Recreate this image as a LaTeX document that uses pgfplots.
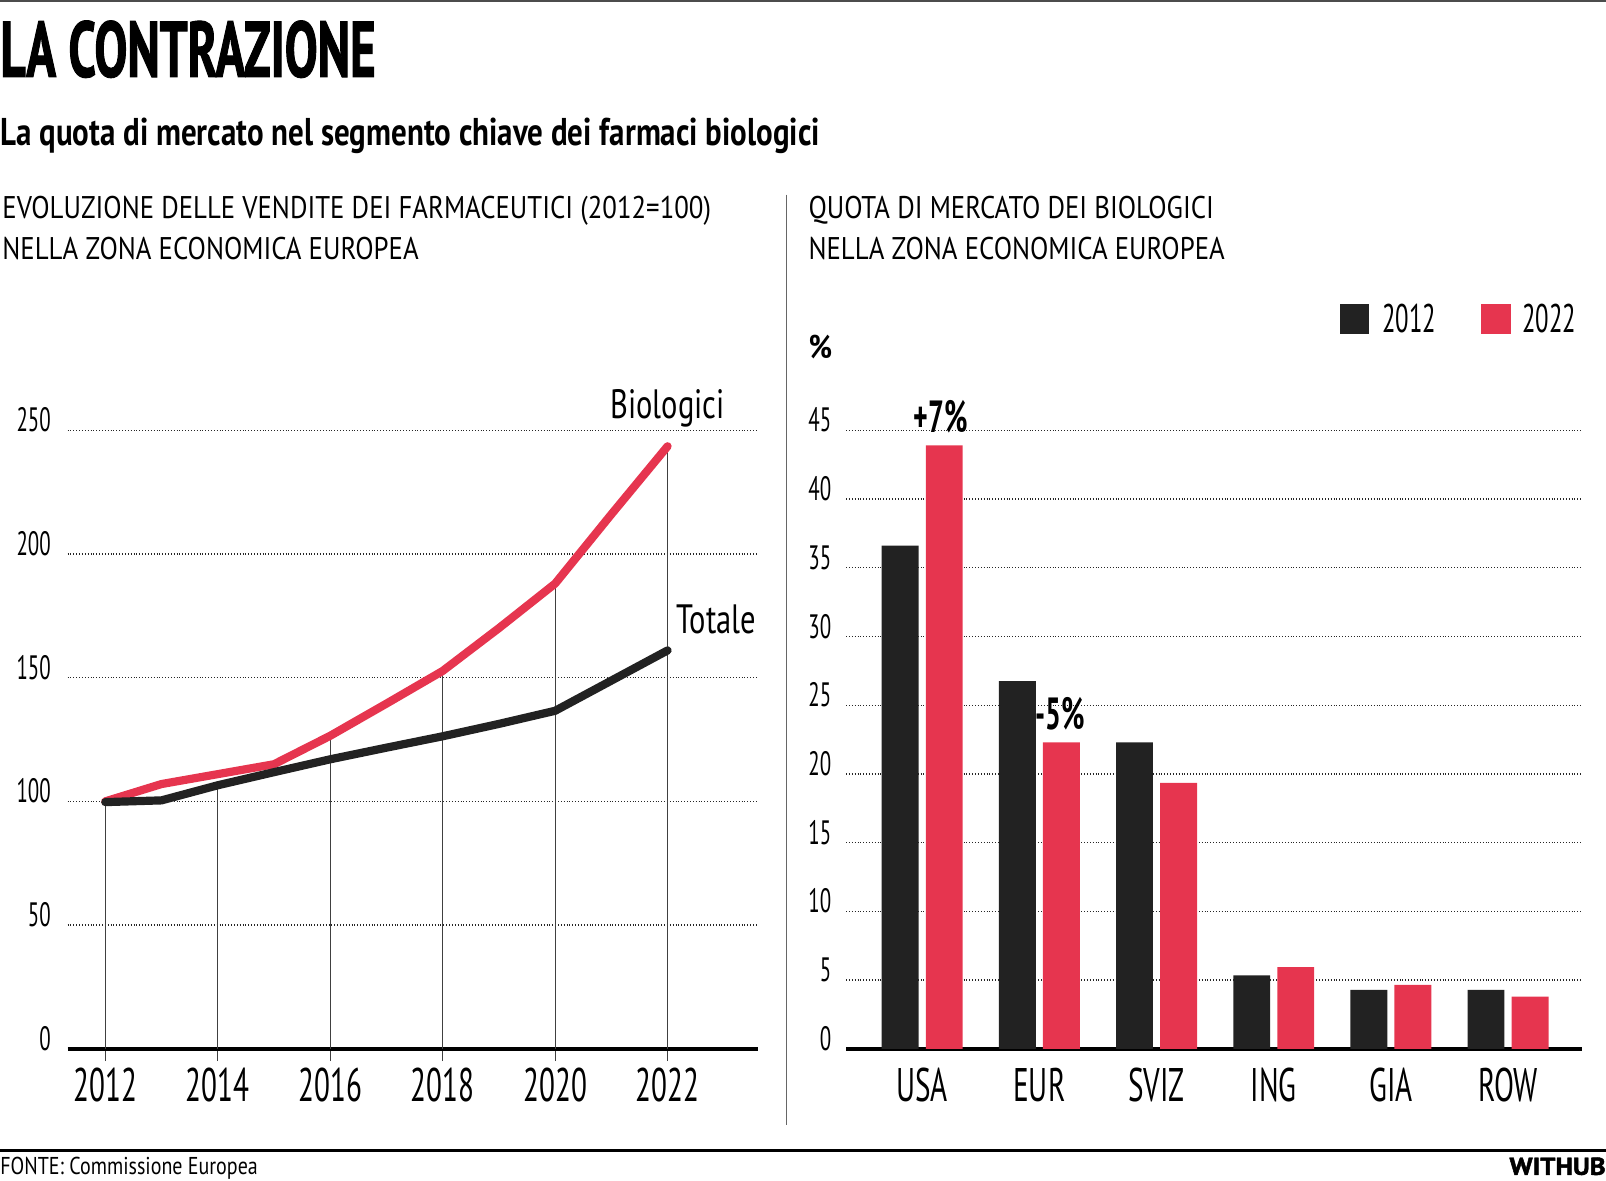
\documentclass[border=0pt]{standalone}
\usepackage{fontspec}
\setmainfont{PT Sans}[FakeStretch=0.855]
\newfontfamily\nf{PT Sans}[FakeStretch=0.62]
\newfontfamily\mf{PT Sans}[FakeStretch=0.745]
\newfontfamily\subf{PT Sans}[FakeStretch=0.80]
\newfontfamily\tf{PT Sans}[FakeStretch=0.624, FakeBold=1.2]
\newfontfamily\ff{PT Sans}[FakeStretch=0.82]
\newfontfamily\wf{PT Sans}[FakeStretch=1.1, FakeBold=2]
\usepackage{pgfplots}
\pgfplotsset{compat=1.18}
\definecolor{myred}{HTML}{E6354F}
\definecolor{myblack}{HTML}{222222}
\begin{document}
\begin{tikzpicture}
\useasboundingbox (0pt,0pt) rectangle (784pt,576.5pt);
% top rule
\draw[black!70, line width=1pt] (0pt,576pt) -- (784pt,576pt);
% title
\node[anchor=base west, inner sep=0pt, font=\tf\bfseries\fontsize{38.5}{38.5}\selectfont] at (0pt,539pt) {LA CONTRAZIONE};
\node[anchor=base west, inner sep=0pt, font=\subf\bfseries\fontsize{18.9}{18.9}\selectfont] at (0pt,505.7pt) {La quota di mercato nel segmento chiave dei farmaci biologici};
% headers
\node[anchor=base west, inner sep=0pt, font=\fontsize{15.3}{15.3}\selectfont] at (1pt,469.6pt) {EVOLUZIONE DELLE VENDITE DEI FARMACEUTICI (2012=100)};
\node[anchor=base west, inner sep=0pt, font=\fontsize{15.3}{15.3}\selectfont] at (1pt,449.6pt) {NELLA ZONA ECONOMICA EUROPEA};
\node[anchor=base west, inner sep=0pt, font=\fontsize{15.3}{15.3}\selectfont] at (394.5pt,469.6pt) {QUOTA DI MERCATO DEI BIOLOGICI};
\node[anchor=base west, inner sep=0pt, font=\fontsize{15.3}{15.3}\selectfont] at (394.5pt,449.6pt) {NELLA ZONA ECONOMICA EUROPEA};
% separator
\draw[black!60, line width=0.7pt] (384pt,481.5pt) -- (384pt,27.5pt);
% footer
\draw[black, line width=1.5pt] (0pt,14.8pt) -- (784pt,14.8pt);
\node[anchor=base west, inner sep=0pt, font=\ff\fontsize{11.9}{11.9}\selectfont] at (0pt,3pt) {FONTE: Commissione Europea};
\node[anchor=base east, inner sep=0pt, font=\wf\bfseries\fontsize{11.9}{11.9}\selectfont] at (784pt,3pt) {WITHUB};
% legend
\fill[myblack] (654pt,428pt) rectangle (668.5pt,413.5pt);
\node[anchor=base west, inner sep=0pt, font=\nf\fontsize{19.5}{19.5}\selectfont] at (674.5pt,414pt) {2012};
\fill[myred] (723pt,428pt) rectangle (737.5pt,413.5pt);
\node[anchor=base west, inner sep=0pt, font=\nf\fontsize{19.5}{19.5}\selectfont] at (743pt,414pt) {2022};
\node[inner sep=0pt, font=\bfseries\fontsize{16}{16}\selectfont] at (400.5pt,407pt) {\%};

% LEFT CHART
\begin{axis}[
  at={(33pt,64.5pt)}, anchor=south west,
  x=27.45pt, y=1.208pt,
  xmin=2011.33, xmax=2023.6, ymin=0, ymax=262,
  clip=false,
  axis x line*=bottom, axis y line*=left,
  x axis line style={line width=2pt, draw=black, -},
  y axis line style={draw=none},
  xtick={2012,2014,2016,2018,2020,2022},
  xticklabels={2012,2014,2016,2018,2020,2022},
  ytick={0,50,100,150,200,250},
  yticklabels={0,50,100,150,200,250},
  ymajorgrids, major grid style={densely dotted, line width=0.6pt, black!85},
  xtick style={draw=black!75, line width=0.6pt},
  ytick style={draw=none},
  xtick align=outside, major tick length=6pt,
  tick label style={inner sep=0pt},
  xticklabel style={font=\nf\fontsize{23}{23}\selectfont, yshift=-3pt},
  yticklabel style={font=\nf\fontsize{16.5}{16.5}\selectfont, xshift=-8pt, yshift=5pt},
]
\addplot[ycomb, black!75, line width=0.6pt, mark=none] coordinates {(2012,100) (2014,106.5) (2016,126.5) (2018,152.7) (2020,188) (2022,243.5)};
\addplot[myred, line width=4pt, line join=round, line cap=round, mark=none] coordinates {(2012,100) (2013,107) (2014,111) (2015,115) (2016,126.5) (2017,139.5) (2018,152.7) (2019,170) (2020,188) (2021,216) (2022,243.5)};
\addplot[myblack, line width=4pt, line join=round, line cap=round, mark=none] coordinates {(2012,99.7) (2013,100.4) (2014,106.5) (2015,111.8) (2016,117) (2017,121.7) (2018,126.3) (2019,131.3) (2020,136.6) (2021,148.8) (2022,161)};
\node[inner sep=0pt, font=\mf\fontsize{20}{20}\selectfont] at (axis cs:2022,259) {Biologici};
\node[inner sep=0pt, font=\mf\fontsize{20}{20}\selectfont] at (axis cs:2022.87,173.4) {Totale};
\end{axis}

% RIGHT CHART
\begin{axis}[
  at={(413pt,64.5pt)}, anchor=south west,
  x=57.2pt, y=6.71pt,
  xmin=-0.65, xmax=5.63, ymin=0, ymax=47,
  clip=false,
  axis x line*=bottom, axis y line*=left,
  x axis line style={line width=2pt, draw=black, -},
  y axis line style={draw=none},
  xtick={0,1,2,3,4,5},
  xticklabels={USA,EUR,SVIZ,ING,GIA,ROW},
  ytick={0,5,10,15,20,25,30,35,40,45},
  yticklabels={0,5,10,15,20,25,30,35,40,45},
  ymajorgrids, major grid style={densely dotted, line width=0.6pt, black!85},
  xtick style={draw=none}, ytick style={draw=none},
  tick label style={inner sep=0pt},
  xticklabel style={font=\nf\fontsize{23}{23}\selectfont, yshift=-9pt},
  yticklabel style={font=\nf\fontsize{16.5}{16.5}\selectfont, xshift=-7pt, yshift=5pt},
]
\addplot[ybar, bar width=18pt, bar shift=-10.75pt, fill=myblack, draw=none] coordinates {(0,36.6) (1,26.75) (2,22.3) (3,5.35) (4,4.28) (5,4.28)};
\addplot[ybar, bar width=18pt, bar shift=10.75pt, fill=myred, draw=none] coordinates {(0,43.9) (1,22.3) (2,19.35) (3,5.95) (4,4.65) (5,3.8)};
\node[inner sep=0pt, font=\nf\bfseries\fontsize{22}{22}\selectfont] at (axis cs:0.16,46.0) {+7\%};
\node[inner sep=0pt, font=\nf\bfseries\fontsize{22}{22}\selectfont] at (axis cs:1.18,24.4) {-5\%};
\end{axis}
\end{tikzpicture}
\end{document}
